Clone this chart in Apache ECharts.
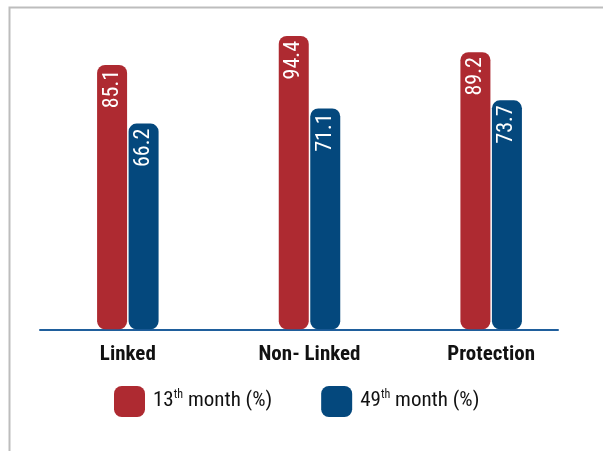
<!DOCTYPE html>
<html>
<head>
<meta charset="utf-8">
<script src="https://cdn.jsdelivr.net/npm/echarts@6/dist/echarts.min.js"></script>
<style>
  html, body { margin: 0; padding: 0; background: #fff; }
  #main { width: 603px; height: 451px; }
</style>
</head>
<body>
<div id="main"></div>
<script>
// persistency ratios
var categories = ["Linked", "Non- Linked", "Protection"];
var month13 = [85.1, 94.4, 89.2];
var month49 = [66.2, 71.1, 73.7];
var seriesNames = ["13th month (%)", "49th month (%)"];

(function() {
    var narrow = "'Liberation Sans Narrow', 'Roboto Condensed', 'DejaVu Sans Condensed', sans-serif";
    var red = "#ae2a31";
    var blue = "#04487d";
    var myChart = echarts.init(document.getElementById("main"));

    var valueLabel = {
        show: true,
        position: "insideTop",
        rotate: 90,
        align: "right",
        verticalAlign: "middle",
        distance: 5,
        color: "#fff",
        fontFamily: narrow,
        fontSize: 22,
        formatter: function(p) { return p.value.toFixed(1); }
    };

    var option = {
        animation: false,
        graphic: [{
            type: "polyline",
            shape: { points: [[9.5, 451], [9.5, 7.5], [603, 7.5]] },
            style: { stroke: "#bdbdbd", lineWidth: 2, fill: null }
        }],
        legend: {
            left: 114,
            top: 386,
            padding: 0,
            itemWidth: 31,
            itemHeight: 31,
            itemGap: 49,
            icon: "roundRect",
            data: seriesNames,
            formatter: function(name) {
                return name.replace(/^(\d+)(th)(.*)$/, "{n|$1}{s|$2}{n|$3}");
            },
            textStyle: {
                padding: [0, 0, 3, 3],
                rich: {
                    n: { fontFamily: narrow, fontSize: 21, color: "#111", lineHeight: 22, verticalAlign: "bottom" },
                    s: { fontFamily: narrow, fontSize: 12, color: "#111", lineHeight: 22, verticalAlign: "top" }
                }
            }
        },
        grid: [
            { left: 37, right: 21, top: 18.6, bottom: 121.7 },
            { left: 40, right: 45, top: 18.6, bottom: 121.7 }
        ],
        xAxis: [{
            type: "category",
            data: categories,
            axisLine: { show: false },
            axisTick: { show: false },
            axisLabel: {
                margin: 15,
                color: "#111",
                fontFamily: narrow,
                fontWeight: "bold",
                fontSize: 21
            }
        }, {
            gridIndex: 1,
            type: "category",
            data: [""],
            axisLine: { lineStyle: { color: "#1f5e9c", width: 2 } },
            axisTick: { show: false },
            axisLabel: { show: false }
        }],
        yAxis: [{
            type: "value",
            min: 0,
            max: 100,
            show: false
        }, {
            gridIndex: 1,
            type: "value",
            min: 0,
            max: 100,
            show: false
        }],
        series: [{
            name: seriesNames[0],
            type: "bar",
            data: month13,
            barWidth: 30,
            barGap: "5%",
            itemStyle: { color: red, borderRadius: 8 },
            label: valueLabel
        }, {
            name: seriesNames[1],
            type: "bar",
            data: month49,
            barWidth: 30,
            itemStyle: { color: blue, borderRadius: 8 },
            label: valueLabel
        }]
    };
    myChart.setOption(option);
}());
</script>
</body>
</html>
